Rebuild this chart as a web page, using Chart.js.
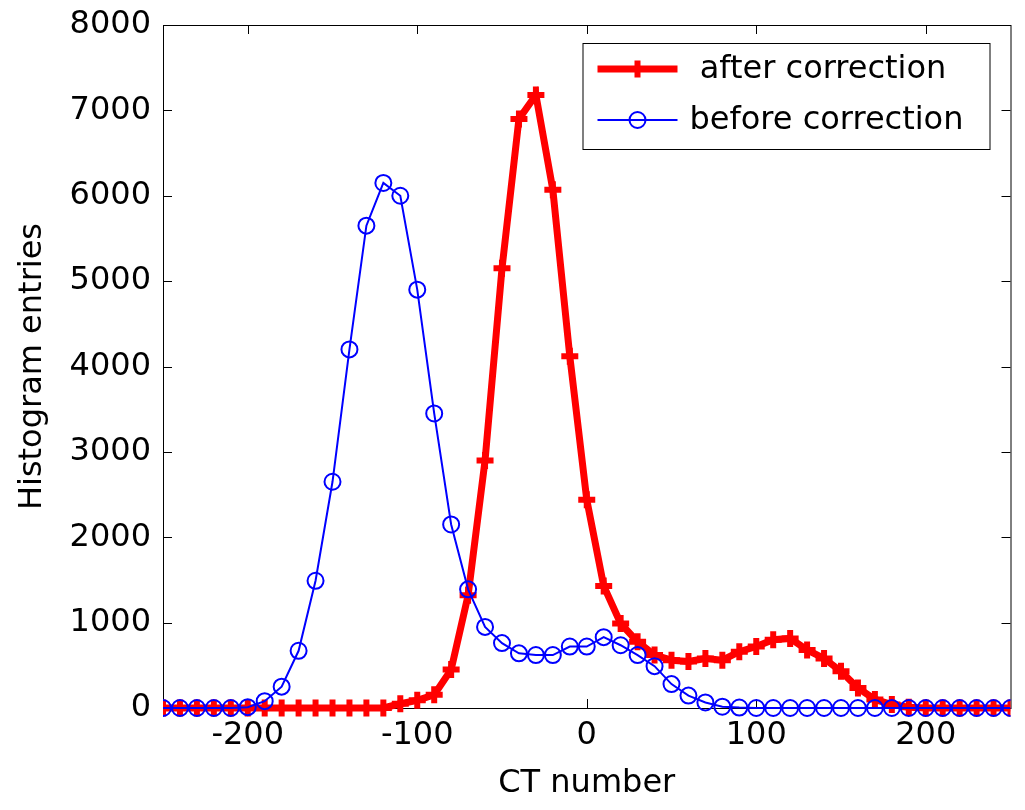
<!DOCTYPE html>
<html>
<head>
<meta charset="utf-8">
<title>Histogram entries vs CT number</title>
<script src="https://cdn.jsdelivr.net/npm/chart.js@4.4.1/dist/chart.umd.min.js"></script>
<style>
    html, body { margin: 0; padding: 0; background: #fff; }
</style>
</head>
<body>
<canvas id="histChart" width="1025" height="810"></canvas>
<script>
// CT number bins (x)
const ctNumbers = [
    -250, -240, -230, -220, -210, -200, -190, -180, -170, -160,
    -150, -140, -130, -120, -110, -100, -90, -80, -70, -60,
    -50, -40, -30, -20, -10, 0, 10, 20, 30, 40,
    50, 60, 70, 80, 90, 100, 110, 120, 130, 140,
    150, 160, 170, 180, 190, 200, 210, 220, 230, 240, 250
];

// Histogram entries
const afterCorrection = [
    0, 0, 0, 0, 0, 0, 0, 0, 0, 0,
    0, 0, 0, 0, 50, 90, 155, 450, 1320, 2900,
    5150, 6900, 7180, 6070, 4120, 2440, 1430, 990, 775, 620,
    560, 545, 580, 560, 660, 720, 800, 815, 680, 580,
    430, 235, 100, 40, 10, 0, 0, 0, 0, 0, 0
];
const beforeCorrection = [
    0, 0, 0, 0, 0, 10, 80, 250, 670, 1490,
    2650, 4200, 5650, 6150, 6000, 4900, 3450, 2150, 1390, 950,
    760, 640, 620, 620, 720, 720, 830, 735, 620, 490,
    280, 145, 65, 15, 5, 0, 0, 0, 0, 0,
    0, 0, 0, 0, 0, 0, 0, 0, 0, 0, 0
];

// Tick labels
const xTicks = [-200, -100, 0, 100, 200];
const yTicks = [0, 1000, 2000, 3000, 4000, 5000, 6000, 7000, 8000];

const font = { family: "'DejaVu Sans', sans-serif", size: 32 };

// Box round the plot with short inward ticks on all four sides
const axesBox = {
    id: 'axesBox',
    beforeDatasetsDraw(chart) {
        const { ctx, chartArea: a, scales: { x, y } } = chart;
        ctx.save();
        ctx.strokeStyle = '#000';
        ctx.lineWidth = 1;
        ctx.strokeRect(a.left + 0.5, a.top + 0.5, a.right - a.left, a.bottom - a.top);
        ctx.beginPath();
        x.ticks.forEach(t => {
            const px = Math.round(x.getPixelForValue(t.value)) + 0.5;
            ctx.moveTo(px, a.bottom); ctx.lineTo(px, a.bottom - 9);
            ctx.moveTo(px, a.top); ctx.lineTo(px, a.top + 9);
        });
        y.ticks.forEach(t => {
            const py = Math.round(y.getPixelForValue(t.value)) + 0.5;
            ctx.moveTo(a.left, py); ctx.lineTo(a.left + 9, py);
            ctx.moveTo(a.right, py); ctx.lineTo(a.right - 9, py);
        });
        ctx.stroke();
        ctx.restore();
    }
};

// Framed legend in the upper right corner
const boxLegend = {
    id: 'boxLegend',
    afterDraw(chart) {
        const { ctx, chartArea: a } = chart;
        const w = 407, h = 106;
        const left = a.right - 21 - w, top = a.top + 18;
        ctx.save();
        ctx.fillStyle = '#fff';
        ctx.fillRect(left, top, w, h);
        ctx.strokeStyle = '#000';
        ctx.lineWidth = 1;
        ctx.strokeRect(left + 0.5, top + 0.5, w, h);
        chart.data.datasets.forEach((ds, i) => {
            const cy = top + 26 + i * 51;
            ctx.strokeStyle = ds.borderColor;
            ctx.lineWidth = ds.borderWidth;
            ctx.beginPath();
            ctx.moveTo(left + 15, cy);
            ctx.lineTo(left + 95, cy);
            ctx.stroke();
            ctx.fillStyle = ds.pointBackgroundColor;
            ctx.lineWidth = ds.pointBorderWidth;
            Chart.helpers.drawPoint(ctx, {
                pointStyle: ds.pointStyle,
                radius: ds.pointRadius,
                borderWidth: ds.pointBorderWidth,
                rotation: 0
            }, left + 55, cy);
            ctx.fillStyle = '#000';
            ctx.font = "32px 'DejaVu Sans', sans-serif";
            ctx.textBaseline = 'middle';
            ctx.fillText(ds.label, left + 107, cy + 1);
        });
        ctx.restore();
    }
};

const ctx = document.getElementById('histChart').getContext('2d');
const histChart = new Chart(ctx, {
    type: 'line',
    data: {
        datasets: [
            {
                label: ' after correction',
                data: ctNumbers.map((v, i) => ({ x: v, y: afterCorrection[i] })),
                borderColor: '#ff0000',
                borderWidth: 7,
                pointStyle: 'cross',
                pointRadius: 8.5,
                pointBorderWidth: 6,
                pointBorderColor: '#ff0000',
                pointBackgroundColor: '#ff0000',
                tension: 0,
                order: 2,
                clip: { left: 0, right: 0, top: 0, bottom: 12 }
            },
            {
                label: 'before correction',
                data: ctNumbers.map((v, i) => ({ x: v, y: beforeCorrection[i] })),
                borderColor: '#0000ff',
                borderWidth: 2,
                pointStyle: 'circle',
                pointRadius: 8,
                pointBorderWidth: 2,
                pointBorderColor: '#0000ff',
                pointBackgroundColor: 'rgba(0,0,0,0)',
                tension: 0,
                order: 1,
                clip: { left: 0, right: 0, top: 0, bottom: 12 }
            }
        ]
    },
    options: {
        responsive: false,
        animation: false,
        layout: { padding: { top: 25, right: 9, left: 0, bottom: 0 } },
        plugins: {
            legend: { display: false },
            tooltip: { enabled: false }
        },
        scales: {
            x: {
                type: 'linear',
                min: -250,
                max: 250,
                afterBuildTicks: s => { s.ticks = xTicks.map(v => ({ value: v })); },
                afterFit: s => { s.height = 102; s.paddingLeft = 0; s.paddingRight = 0; },
                grid: { display: false, drawTicks: false },
                border: { display: false },
                ticks: { padding: 8, font: font, color: '#000', maxRotation: 0, callback: v => String(v) },
                title: { display: true, text: 'CT number', font: font, color: '#000', padding: { top: 0, bottom: 7 } }
            },
            y: {
                type: 'linear',
                min: 0,
                max: 8000,
                afterBuildTicks: s => { s.ticks = yTicks.map(v => ({ value: v })); },
                afterFit: s => { s.width = 163; s.paddingTop = 0; s.paddingBottom = 0; },
                grid: { display: false, drawTicks: false },
                border: { display: false },
                ticks: { padding: 12, font: font, color: '#000', callback: v => String(v) },
                title: { display: true, text: 'Histogram entries', font: font, color: '#000', padding: { top: 13, bottom: 0 } }
            }
        }
    },
    plugins: [axesBox, boxLegend]
});
</script>
</body>
</html>
